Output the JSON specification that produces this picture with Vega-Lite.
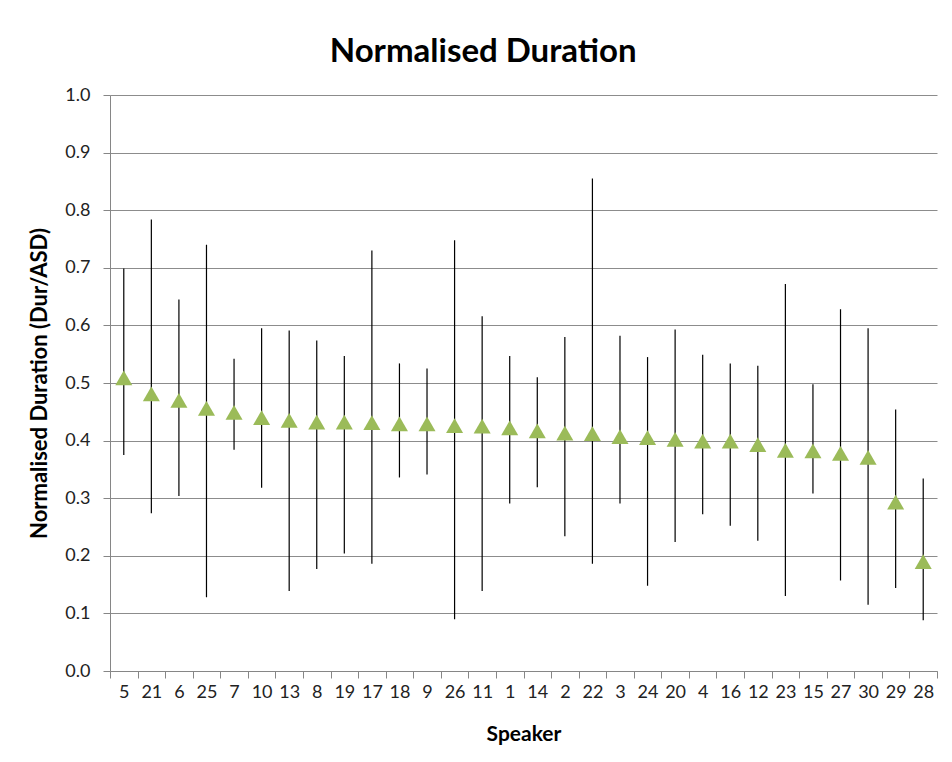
{
  "$schema": "https://vega.github.io/schema/vega-lite/v6.json",
  "autosize": "none",
  "width": 827,
  "height": 576,
  "padding": {"left": 110, "top": 95, "right": 15, "bottom": 91},
  "background": "white",
  "title": {
    "text": "Normalised Duration",
    "font": "Lato",
    "fontSize": 33,
    "fontWeight": "bold",
    "color": "#000000",
    "anchor": "middle",
    "frame": "bounds",
    "baseline": "alphabetic",
    "offset": -9
  },
  "config": {
    "view": {"stroke": null},
    "axis": {
      "labelFont": "Lato",
      "labelFontSize": 18,
      "labelColor": "#222222",
      "titleFont": "Lato",
      "titleFontSize": 21,
      "titleFontWeight": "bold",
      "titleColor": "#000000",
      "domainColor": "#868686",
      "tickColor": "#868686",
      "gridColor": "#8c8c8c",
      "tickSize": 7
    }
  },
  "data": {
    "values": [
      {"speaker": "5", "mean": 0.509, "lo": 0.375, "hi": 0.699},
      {"speaker": "21", "mean": 0.481, "lo": 0.274, "hi": 0.784},
      {"speaker": "6", "mean": 0.470, "lo": 0.304, "hi": 0.645},
      {"speaker": "25", "mean": 0.456, "lo": 0.128, "hi": 0.740},
      {"speaker": "7", "mean": 0.449, "lo": 0.384, "hi": 0.542},
      {"speaker": "10", "mean": 0.440, "lo": 0.318, "hi": 0.595},
      {"speaker": "13", "mean": 0.435, "lo": 0.139, "hi": 0.591},
      {"speaker": "8", "mean": 0.432, "lo": 0.177, "hi": 0.574},
      {"speaker": "19", "mean": 0.432, "lo": 0.204, "hi": 0.547},
      {"speaker": "17", "mean": 0.431, "lo": 0.186, "hi": 0.730},
      {"speaker": "18", "mean": 0.429, "lo": 0.336, "hi": 0.534},
      {"speaker": "9", "mean": 0.429, "lo": 0.341, "hi": 0.525},
      {"speaker": "26", "mean": 0.426, "lo": 0.090, "hi": 0.748},
      {"speaker": "11", "mean": 0.425, "lo": 0.139, "hi": 0.616},
      {"speaker": "1", "mean": 0.422, "lo": 0.291, "hi": 0.547},
      {"speaker": "14", "mean": 0.417, "lo": 0.319, "hi": 0.510},
      {"speaker": "2", "mean": 0.413, "lo": 0.234, "hi": 0.580},
      {"speaker": "22", "mean": 0.412, "lo": 0.186, "hi": 0.855},
      {"speaker": "3", "mean": 0.407, "lo": 0.291, "hi": 0.582},
      {"speaker": "24", "mean": 0.405, "lo": 0.148, "hi": 0.545},
      {"speaker": "20", "mean": 0.402, "lo": 0.224, "hi": 0.593},
      {"speaker": "4", "mean": 0.399, "lo": 0.272, "hi": 0.549},
      {"speaker": "16", "mean": 0.399, "lo": 0.252, "hi": 0.534},
      {"speaker": "12", "mean": 0.393, "lo": 0.226, "hi": 0.530},
      {"speaker": "23", "mean": 0.383, "lo": 0.130, "hi": 0.672},
      {"speaker": "15", "mean": 0.382, "lo": 0.308, "hi": 0.498},
      {"speaker": "27", "mean": 0.378, "lo": 0.157, "hi": 0.628},
      {"speaker": "30", "mean": 0.371, "lo": 0.115, "hi": 0.595},
      {"speaker": "29", "mean": 0.293, "lo": 0.144, "hi": 0.454},
      {"speaker": "28", "mean": 0.190, "lo": 0.088, "hi": 0.334}
    ]
  },
  "encoding": {
    "x": {
      "field": "speaker",
      "type": "nominal",
      "sort": null,
      "scale": {"paddingInner": 0, "paddingOuter": 0},
      "axis": {
        "title": "Speaker",
        "labelAngle": 0,
        "tickBand": "extent",
        "labelPadding": 5,
        "titlePadding": 22,
        "grid": false
      }
    }
  },
  "layer": [
    {
      "mark": {"type": "rule", "color": "#000000", "strokeWidth": 1.2},
      "encoding": {
        "y": {
          "field": "lo",
          "type": "quantitative",
          "scale": {"domain": [0, 1], "nice": false},
          "axis": {
            "title": "Normalised Duration (Dur/ASD)",
            "titleFontSize": 22,
            "values": [0, 0.1, 0.2, 0.3, 0.4, 0.5, 0.6, 0.7, 0.8, 0.9, 1.0],
            "format": ".1f",
            "grid": true,
            "labelPadding": 13,
            "titlePadding": 13
          }
        },
        "y2": {"field": "hi"}
      }
    },
    {
      "mark": {"type": "point", "shape": "triangle-up", "filled": true, "color": "#9BBB59", "opacity": 1, "size": 290},
      "encoding": {
        "y": {"field": "mean", "type": "quantitative"}
      }
    }
  ]
}
